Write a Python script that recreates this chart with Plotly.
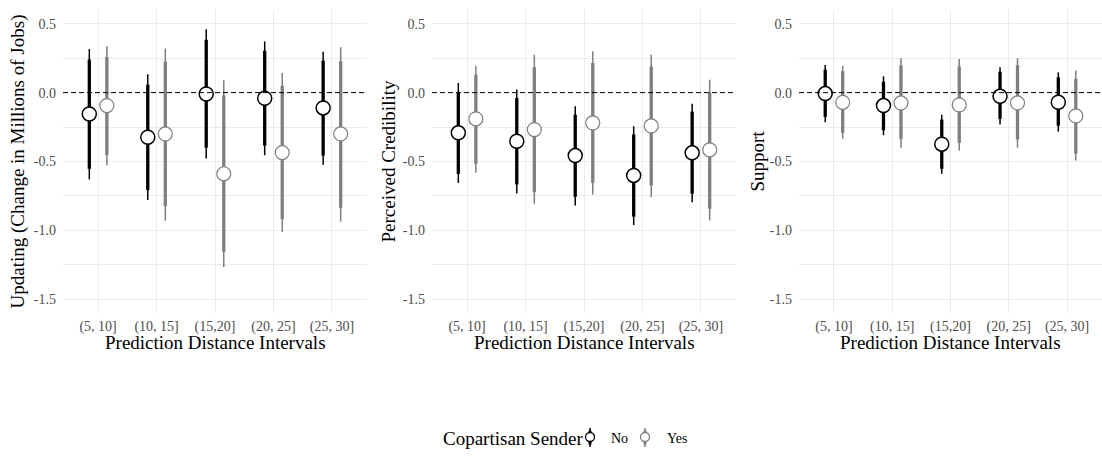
import plotly.graph_objects as go

W, H = 1102, 459

categories = ["(5, 10]", "(10, 15]", "(15,20]", "(20, 25]", "(25, 30]"]
groups = ["No", "Yes"]

# Panel 1: Updating
upd_no_est = [-0.155, -0.324, -0.010, -0.041, -0.111]
upd_no_lo90 = [-0.553, -0.708, -0.400, -0.384, -0.457]
upd_no_hi90 = [0.240, 0.058, 0.384, 0.304, 0.232]
upd_no_lo95 = [-0.630, -0.780, -0.478, -0.454, -0.524]
upd_no_hi95 = [0.316, 0.133, 0.460, 0.372, 0.297]
upd_yes_est = [-0.094, -0.300, -0.589, -0.435, -0.300]
upd_yes_lo90 = [-0.452, -0.824, -1.155, -0.918, -0.836]
upd_yes_hi90 = [0.258, 0.225, -0.020, 0.050, 0.228]
upd_yes_lo95 = [-0.527, -0.930, -1.266, -1.012, -0.937]
upd_yes_hi95 = [0.336, 0.320, 0.090, 0.143, 0.330]

# Panel 2: Perceived Credibility
cred_no_est = [-0.292, -0.353, -0.457, -0.601, -0.437]
cred_no_lo90 = [-0.590, -0.667, -0.756, -0.901, -0.734]
cred_no_hi90 = [0.005, -0.039, -0.160, -0.304, -0.138]
cred_no_lo95 = [-0.655, -0.732, -0.819, -0.961, -0.795]
cred_no_hi95 = [0.070, 0.022, -0.099, -0.244, -0.080]
cred_yes_est = [-0.190, -0.268, -0.220, -0.242, -0.415]
cred_yes_lo90 = [-0.517, -0.722, -0.655, -0.674, -0.843]
cred_yes_hi90 = [0.130, 0.184, 0.215, 0.190, 0.000]
cred_yes_lo95 = [-0.582, -0.807, -0.739, -0.758, -0.928]
cred_yes_hi95 = [0.196, 0.275, 0.300, 0.275, 0.094]

# Panel 3: Support
sup_no_est = [-0.007, -0.094, -0.374, -0.027, -0.070]
sup_no_lo90 = [-0.176, -0.273, -0.553, -0.190, -0.240]
sup_no_hi90 = [0.167, 0.080, -0.196, 0.152, 0.111]
sup_no_lo95 = [-0.215, -0.309, -0.589, -0.232, -0.283]
sup_no_hi95 = [0.200, 0.118, -0.160, 0.184, 0.147]
sup_yes_est = [-0.070, -0.075, -0.089, -0.075, -0.169]
sup_yes_lo90 = [-0.292, -0.336, -0.365, -0.340, -0.442]
sup_yes_hi90 = [0.155, 0.198, 0.190, 0.198, 0.100]
sup_yes_lo95 = [-0.333, -0.400, -0.420, -0.400, -0.493]
sup_yes_hi95 = [0.196, 0.250, 0.244, 0.250, 0.160]

y_tickvals = [0.5, 0.0, -0.5, -1.0, -1.5]
y_ticktext = ["0.5", "0.0", "-0.5", "-1.0", "-1.5"]

panel_titles = ["Updating (Change in Millions of Jobs)", "Perceived Credibility", "Support"]
x_title = "Prediction Distance Intervals"
legend_title = "Copartisan Sender"

panels = [
    {
        "No": (upd_no_est, upd_no_lo90, upd_no_hi90, upd_no_lo95, upd_no_hi95),
        "Yes": (upd_yes_est, upd_yes_lo90, upd_yes_hi90, upd_yes_lo95, upd_yes_hi95),
    },
    {
        "No": (cred_no_est, cred_no_lo90, cred_no_hi90, cred_no_lo95, cred_no_hi95),
        "Yes": (cred_yes_est, cred_yes_lo90, cred_yes_hi90, cred_yes_lo95, cred_yes_hi95),
    },
    {
        "No": (sup_no_est, sup_no_lo90, sup_no_hi90, sup_no_lo95, sup_no_hi95),
        "Yes": (sup_yes_est, sup_yes_lo90, sup_yes_hi90, sup_yes_lo95, sup_yes_hi95),
    },
]

# styling
FONT = "Liberation Serif"
colors = {"No": "#000000", "Yes": "#7f7f7f"}
dodge = {"No": -0.15, "Yes": 0.15}
GRID = "#ebebeb"
TICKC = "#4d4d4d"

# layout in pixels
px_domains = [(63, 367), (432, 736), (799, 1102)]
plot_top, plot_bot = 10, 313


def fx(px):
    return px / W


def fy(py):
    return 1 - py / H


fig = go.Figure()

for i, panel in enumerate(panels):
    ax = "" if i == 0 else str(i + 1)
    xref, yref = "x" + ax, "y" + ax
    for g in groups:
        est, lo90, hi90, lo95, hi95 = panel[g]
        xs = [k + 1 + dodge[g] for k in range(len(categories))]
        # thin 95% intervals
        lx, ly = [], []
        for xv, a, b in zip(xs, lo95, hi95):
            lx += [xv, xv, None]
            ly += [a, b, None]
        fig.add_trace(go.Scatter(x=lx, y=ly, mode="lines", xaxis=xref, yaxis=yref,
                                 line=dict(color=colors[g], width=1.5),
                                 showlegend=False, hoverinfo="skip"))
        # thick 90% intervals
        lx, ly = [], []
        for xv, a, b in zip(xs, lo90, hi90):
            lx += [xv, xv, None]
            ly += [a, b, None]
        fig.add_trace(go.Scatter(x=lx, y=ly, mode="lines", xaxis=xref, yaxis=yref,
                                 line=dict(color=colors[g], width=3.3),
                                 showlegend=False, hoverinfo="skip"))
        # points
        fig.add_trace(go.Scatter(x=xs, y=est, mode="markers", xaxis=xref, yaxis=yref,
                                 marker=dict(size=14, color="white",
                                             line=dict(color=colors[g], width=1.5 if g == "No" else 1.2)),
                                 name=g, showlegend=False))
    # zero reference line
    fig.add_shape(type="line", xref=xref + " domain", yref=yref, x0=0, x1=1, y0=0, y1=0,
                  line=dict(color="black", width=1, dash="5px,3px"))

    d0, d1 = px_domains[i]
    xa = dict(domain=[fx(d0), fx(d1)], range=[0.4, 5.6],
              tickvals=list(range(1, len(categories) + 1)), ticktext=categories,
              showgrid=True, gridcolor=GRID, gridwidth=1, zeroline=False,
              showline=False, ticks="", tickfont=dict(family=FONT, size=14, color=TICKC),
              ticklabelstandoff=3, anchor=yref, fixedrange=True)
    ya = dict(domain=[fy(plot_bot), fy(plot_top)], range=[-1.6, 0.6],
              tickvals=y_tickvals, ticktext=y_ticktext,
              showgrid=True, gridcolor=GRID, gridwidth=1, zeroline=False,
              showline=False, ticks="", tickfont=dict(family=FONT, size=14, color=TICKC),
              ticklabelstandoff=6, anchor=xref,
              minor=dict(tickvals=[0.25, -0.25, -0.75, -1.25], showgrid=True,
                         gridcolor=GRID, gridwidth=0.6))
    fig.update_layout(**{"xaxis" + ax: xa, "yaxis" + ax: ya})

    # x axis title
    fig.add_annotation(x=fx((d0 + d1) / 2), y=fy(342), xref="paper", yref="paper",
                       text=x_title, showarrow=False, xanchor="center", yanchor="middle",
                       font=dict(family=FONT, size=19, color="black"))

# y axis titles
ytitle_x = [17, 388, 757]
for i, t in enumerate(panel_titles):
    fig.add_annotation(x=fx(ytitle_x[i]), y=fy((plot_top + plot_bot) / 2), xref="paper", yref="paper",
                       text=t, textangle=-90, showarrow=False, xanchor="center", yanchor="middle",
                       font=dict(family=FONT, size=19, color="black"))

# legend (drawn manually)
fig.add_annotation(x=fx(586), y=fy(438), xref="paper", yref="paper", text=legend_title,
                   showarrow=False, xanchor="right", yanchor="middle",
                   font=dict(family=FONT, size=19, color="black"))
key_x = {"No": 590, "Yes": 645}
lab_x = {"No": 609, "Yes": 665}
for g in groups:
    kx = key_x[g]
    fig.add_shape(type="line", xref="paper", yref="paper", x0=fx(kx), x1=fx(kx),
                  y0=fy(428), y1=fy(447), line=dict(color=colors[g], width=1.5))
    fig.add_shape(type="line", xref="paper", yref="paper", x0=fx(kx), x1=fx(kx),
                  y0=fy(430.5), y1=fy(444.5), line=dict(color=colors[g], width=3))
    fig.add_shape(type="circle", xref="paper", yref="paper",
                  x0=fx(kx - 4.5), x1=fx(kx + 4.5), y0=fy(437 + 4.5), y1=fy(437 - 4.5),
                  fillcolor="white", line=dict(color=colors[g], width=1.3))
    fig.add_annotation(x=fx(lab_x[g]), y=fy(438), xref="paper", yref="paper", text=g,
                       showarrow=False, xanchor="left", yanchor="middle",
                       font=dict(family=FONT, size=14, color="black"))

fig.update_layout(width=W, height=H, margin=dict(l=0, r=0, t=0, b=0),
                  paper_bgcolor="white", plot_bgcolor="white", showlegend=False)

fig.write_html("out.html")
